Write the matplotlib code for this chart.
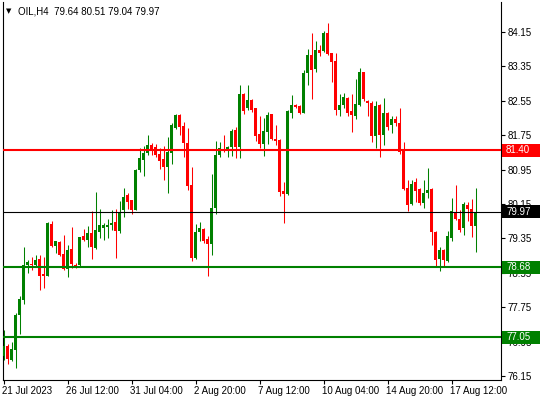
import matplotlib
matplotlib.use('Agg')
import matplotlib.pyplot as plt
import matplotlib.transforms as mtransforms
from matplotlib.patches import Rectangle

# OIL H4 candles (one value per 4h bar)
opens = [76.62, 76.85, 76.52, 76.75, 77.57, 77.92, 78.73, 78.75, 78.73, 78.87,
         78.52, 78.48, 79.69, 79.17, 79.27, 78.99, 78.64, 79.10, 78.73, 78.73,
         79.41, 79.31, 79.48, 79.13, 79.50, 79.59, 79.62, 79.66, 79.73, 79.52,
         80.01, 80.36, 80.24, 80.01, 80.94, 81.17, 81.34, 81.52, 81.48, 81.31,
         81.20, 81.01, 81.34, 81.92, 82.22, 81.96, 81.57, 80.59, 78.89, 79.50,
         79.57, 79.34, 79.22, 80.06, 81.29, 81.41, 81.41, 81.48, 81.87, 81.48,
         82.71, 82.38, 82.57, 82.38, 81.78, 81.54, 81.82, 82.24, 81.66, 81.64,
         80.45, 80.38, 82.27, 82.45, 82.43, 82.27, 83.20, 83.62, 83.29, 83.73,
         83.71, 84.13, 83.66, 83.48, 82.34, 82.45, 82.62, 82.31, 82.20, 82.45,
         83.22, 82.54, 82.50, 81.73, 82.45, 81.76, 82.27, 81.99, 82.13, 82.03,
         81.38, 80.52, 80.15, 80.66, 80.50, 80.17, 80.41, 80.50, 79.50, 78.87,
         79.08, 78.82, 79.36, 79.96, 79.80, 79.59, 80.13, 80.03, 79.64]
highs = [77.22, 76.89, 76.94, 77.61, 78.01, 79.15, 78.85, 78.92, 78.96, 78.96,
         78.92, 79.73, 79.75, 79.29, 79.29, 79.43, 79.20, 79.62, 78.78, 79.38,
         79.57, 79.64, 79.99, 80.43, 80.03, 79.71, 79.80, 80.01, 80.03, 80.22,
         80.52, 80.41, 80.25, 80.96, 81.45, 81.50, 81.76, 81.57, 81.54, 81.45,
         81.50, 81.71, 82.03, 82.24, 82.24, 82.06, 81.92, 81.01, 79.69, 79.73,
         79.59, 79.41, 80.85, 81.62, 81.59, 81.76, 81.50, 81.89, 81.94, 82.92,
         82.72, 82.92, 82.59, 82.39, 82.20, 82.15, 82.29, 82.25, 81.99, 81.65,
         80.66, 82.34, 82.69, 82.48, 82.45, 83.27, 83.75, 84.13, 83.94, 83.85,
         84.17, 84.36, 83.67, 83.66, 82.71, 82.73, 82.63, 82.71, 83.06, 83.31,
         83.23, 82.57, 82.54, 82.54, 82.48, 82.62, 82.28, 82.20, 82.20, 82.38,
         81.59, 80.71, 80.71, 80.76, 80.52, 80.71, 80.99, 80.51, 79.52, 79.15,
         79.10, 79.52, 80.29, 80.59, 80.01, 80.20, 80.20, 80.27, 80.51]
lows = [76.52, 76.43, 76.50, 76.34, 77.13, 77.82, 78.54, 78.62, 78.71, 78.15,
        78.20, 78.47, 79.15, 79.01, 78.94, 78.62, 78.45, 78.66, 78.66, 78.71,
        79.29, 79.15, 78.87, 79.10, 79.36, 79.31, 79.36, 79.54, 78.89, 79.48,
        79.85, 80.03, 79.92, 80.00, 80.89, 80.80, 81.29, 81.29, 81.24, 80.96,
        80.71, 80.41, 81.08, 81.89, 81.76, 81.24, 80.48, 78.82, 78.88, 79.29,
        79.24, 78.48, 78.96, 79.92, 81.24, 81.36, 81.24, 81.27, 81.22, 81.22,
        82.24, 82.34, 82.29, 81.62, 81.45, 81.27, 81.54, 81.64, 81.52, 80.34,
        79.71, 80.37, 82.15, 82.38, 82.24, 82.26, 82.92, 82.59, 83.22, 83.59,
        83.68, 83.62, 82.99, 82.22, 82.20, 82.38, 82.20, 81.82, 82.13, 82.44,
        82.54, 82.20, 81.59, 81.45, 81.24, 81.52, 81.87, 81.80, 81.96, 81.31,
        80.48, 79.99, 80.13, 80.20, 80.13, 80.06, 80.29, 79.20, 78.71, 78.59,
        78.71, 78.81, 79.29, 79.78, 79.50, 79.43, 79.75, 79.38, 79.04]
closes = [76.85, 76.54, 76.78, 77.57, 77.94, 78.73, 78.80, 78.73, 78.85, 78.48,
          78.48, 79.71, 79.17, 79.29, 78.96, 78.64, 79.08, 78.75, 78.71, 79.38,
          79.31, 79.48, 79.15, 79.54, 79.66, 79.66, 79.66, 79.71, 79.52, 79.96,
          80.31, 80.20, 80.01, 80.94, 81.22, 81.34, 81.52, 81.41, 81.29, 81.15,
          81.01, 81.36, 81.99, 82.22, 81.94, 81.57, 80.57, 78.89, 79.50, 79.59,
          79.29, 79.22, 80.06, 81.29, 81.45, 81.38, 81.48, 81.85, 81.48, 82.71,
          82.31, 82.57, 82.34, 81.73, 81.54, 81.85, 82.22, 81.66, 81.62, 80.43,
          80.38, 82.31, 82.45, 82.41, 82.27, 83.20, 83.62, 83.27, 83.73, 83.66,
          84.13, 83.64, 83.45, 82.34, 82.45, 82.64, 82.27, 82.22, 82.48, 83.22,
          82.59, 82.50, 81.73, 82.43, 81.76, 82.27, 81.94, 82.13, 82.03, 81.36,
          80.50, 80.13, 80.62, 80.45, 80.17, 80.41, 80.48, 79.50, 78.85, 79.08,
          78.85, 79.41, 79.99, 79.80, 79.54, 80.15, 80.03, 79.64, 79.97]

time_labels = ['21 Jul 2023', '26 Jul 12:00', '31 Jul 04:00', '2 Aug 20:00',
               '7 Aug 12:00', '10 Aug 04:00', '14 Aug 20:00', '17 Aug 12:00']
label_every = 16  # bars between time labels

price_ticks = [76.15, 76.95, 77.75, 78.55, 79.35, 80.15, 80.95, 81.75,
               82.55, 83.35, 84.15]

# horizontal levels: (price, colour, width in pt)
levels = [(81.40, '#ff0000', 1.5), (79.97, 'black', 0.8),
          (78.68, '#008000', 1.5), (77.05, '#008000', 1.5)]

W, H = 540, 400
fig = plt.figure(figsize=(W / 100, H / 100), dpi=100)
ax = fig.add_axes([2.5 / W, 20.5 / H, (501 - 2.5) / W, (398 - 20.5) / H])

plt.rcParams['font.family'] = ['Liberation Sans', 'DejaVu Sans']
fs = 7

up = '#008000'
down = '#ff0000'
n = len(opens)
for i in range(n):
    o, h, l, c = opens[i], highs[i], lows[i], closes[i]
    col = up if c >= o else down
    ax.vlines(i, l, h, color=col, linewidth=0.75, zorder=2)
    body = max(abs(c - o), 0.025)
    ax.bar(i, body, bottom=min(o, c), width=0.75, color=col,
           linewidth=0, zorder=3)

for price, col, lw in levels:
    ax.axhline(price, color=col, linewidth=lw, zorder=4)

ax.set_xlim(-0.25, 124.375)
ax.set_ylim(76.068, 84.847)

# axes look like MT4
for side in ['left', 'right', 'bottom']:
    ax.spines[side].set_linewidth(0.8)
    ax.spines[side].set_color('black')
ax.spines['top'].set_visible(False)

ax.yaxis.tick_right()
ax.set_yticks(price_ticks)
ax.set_yticklabels([f'{p:.2f}' for p in price_ticks], fontsize=fs,
                   family=['Liberation Sans'])
ax.tick_params(axis='y', direction='out', length=3, width=0.8, pad=2)

ax.set_xticks([k * label_every for k in range(len(time_labels))])
ax.set_xticklabels(time_labels, fontsize=fs, family=['Liberation Sans'])
ax.tick_params(axis='x', direction='out', length=3, width=0.8, pad=1.5)
shift = mtransforms.ScaledTranslation(-1.5 / 100, 0, fig.dpi_scale_trans)
for lab in ax.get_xticklabels():
    lab.set_horizontalalignment('left')
    lab.set_transform(lab.get_transform() + shift)

# coloured price boxes on the right scale
blend = mtransforms.blended_transform_factory(fig.transFigure, ax.transData)
box_h = 13 / 43.0
for price, col, lw in levels:
    ax.add_patch(Rectangle((502 / W, price - box_h / 2), (W - 502) / W, box_h,
                           transform=blend, facecolor=col, edgecolor='none',
                           clip_on=False, zorder=10))
    ax.text(506 / W, price, f'{price:.2f}', transform=blend, color='white',
            fontsize=fs, va='center', ha='left', clip_on=False, zorder=11,
            family=['Liberation Sans'])

# header
fig.text(6 / W, 1 - 11 / H, '\u25bc', fontsize=5, va='center', ha='left',
         family=['DejaVu Sans'])
fig.text(18 / W, 1 - 11 / H, 'OIL,H4  79.64 80.51 79.04 79.97', fontsize=fs,
         va='center', ha='left', family=['Liberation Sans'])

plt.savefig('out.png', dpi=100)
